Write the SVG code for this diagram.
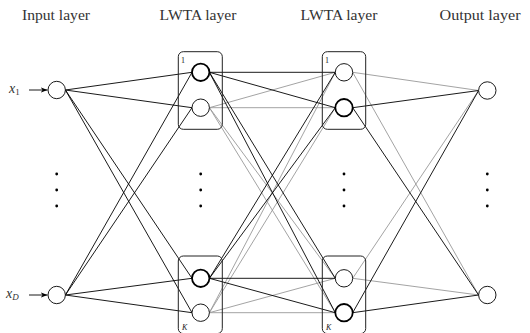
<svg xmlns="http://www.w3.org/2000/svg" width="530" height="333" viewBox="0 0 530 333">
<defs>
<style>
.hdr{font-family:"Liberation Serif",serif;font-size:14px;fill:#333}
.n{fill:#fff;stroke:#000;stroke-width:0.9}
.nb{fill:#fff;stroke:#000;stroke-width:1.8}
.box{fill:none;stroke:#222;stroke-width:1}
.k{stroke:#000;stroke-width:0.9;fill:none}
.g{stroke:#999;stroke-width:0.9;fill:none}
.dot{fill:#000}
.var{font-family:"Liberation Serif",serif;font-style:italic;font-size:14px;fill:#333}
.small{font-family:"Liberation Serif",serif;font-size:8px;fill:#222}
</style>
<marker id="ah" viewBox="0 0 10 10" refX="10" refY="5" markerWidth="7" markerHeight="7" markerUnits="userSpaceOnUse" orient="auto">
<path d="M0,1 L10,5 L0,9 L3,5 Z" fill="#000"/>
</marker>
</defs>
<rect width="530" height="333" fill="#fff"/>
<g id="headers">
<text class="hdr" x="56" y="20" text-anchor="middle" textLength="68" lengthAdjust="spacingAndGlyphs">Input layer</text>
<text class="hdr" x="198" y="20" text-anchor="middle" textLength="77" lengthAdjust="spacingAndGlyphs">LWTA layer</text>
<text class="hdr" x="339" y="20" text-anchor="middle" textLength="77" lengthAdjust="spacingAndGlyphs">LWTA layer</text>
<text class="hdr" x="480" y="20" text-anchor="middle" textLength="81" lengthAdjust="spacingAndGlyphs">Output layer</text>
</g>
<g id="connectors">
<line class="g" x1="209.4" y1="107.7" x2="335.3" y2="72.3"/>
<line class="g" x1="209.4" y1="107.7" x2="335.3" y2="107.7"/>
<line class="g" x1="209.4" y1="107.7" x2="335.3" y2="278.3"/>
<line class="g" x1="209.4" y1="107.7" x2="335.3" y2="312.7"/>
<line class="g" x1="209.4" y1="312.7" x2="335.3" y2="72.3"/>
<line class="g" x1="209.4" y1="312.7" x2="335.3" y2="107.7"/>
<line class="g" x1="209.4" y1="312.7" x2="335.3" y2="278.3"/>
<line class="g" x1="209.4" y1="312.7" x2="335.3" y2="312.7"/>
<line class="g" x1="352.7" y1="72.3" x2="478.6" y2="90.5"/>
<line class="g" x1="352.7" y1="72.3" x2="478.6" y2="295"/>
<line class="g" x1="352.7" y1="278.3" x2="478.6" y2="90.5"/>
<line class="g" x1="352.7" y1="278.3" x2="478.6" y2="295"/>
<line class="k" x1="65.4" y1="90" x2="192" y2="72.3"/>
<line class="k" x1="65.4" y1="90" x2="192" y2="107.7"/>
<line class="k" x1="65.4" y1="90" x2="192" y2="278.3"/>
<line class="k" x1="65.4" y1="90" x2="192" y2="312.7"/>
<line class="k" x1="65.4" y1="295" x2="192" y2="72.3"/>
<line class="k" x1="65.4" y1="295" x2="192" y2="107.7"/>
<line class="k" x1="65.4" y1="295" x2="192" y2="278.3"/>
<line class="k" x1="65.4" y1="295" x2="192" y2="312.7"/>
<line class="k" x1="209.4" y1="72.3" x2="335.3" y2="72.3"/>
<line class="k" x1="209.4" y1="72.3" x2="335.3" y2="107.7"/>
<line class="k" x1="209.4" y1="72.3" x2="335.3" y2="278.3"/>
<line class="k" x1="209.4" y1="72.3" x2="335.3" y2="312.7"/>
<line class="k" x1="209.4" y1="278.3" x2="335.3" y2="72.3"/>
<line class="k" x1="209.4" y1="278.3" x2="335.3" y2="107.7"/>
<line class="k" x1="209.4" y1="278.3" x2="335.3" y2="278.3"/>
<line class="k" x1="209.4" y1="278.3" x2="335.3" y2="312.7"/>
<line class="k" x1="352.7" y1="107.7" x2="478.6" y2="90.5"/>
<line class="k" x1="352.7" y1="107.7" x2="478.6" y2="295"/>
<line class="k" x1="352.7" y1="312.7" x2="478.6" y2="90.5"/>
<line class="k" x1="352.7" y1="312.7" x2="478.6" y2="295"/>
<line class="k" x1="29" y1="90" x2="47.5" y2="90" marker-end="url(#ah)"/>
<line class="k" x1="29" y1="295" x2="47.5" y2="295" marker-end="url(#ah)"/>
</g>
<g id="input-layer">
<circle id="x1" class="n" cx="56.7" cy="90" r="8.7"/>
<circle id="xD" class="n" cx="56.7" cy="295" r="8.7"/>
<text class="var" x="9" y="93">x<tspan font-size="9" font-style="normal" dy="2">1</tspan></text>
<text class="var" x="6" y="298">x<tspan font-size="9" dy="2">D</tspan></text>
<circle class="dot" cx="56.7" cy="174" r="1.4"/>
<circle class="dot" cx="56.7" cy="190" r="1.4"/>
<circle class="dot" cx="56.7" cy="206" r="1.4"/>
</g>
<g id="lwta1">
<rect class="box" x="178.3" y="51.7" width="44" height="77.6" rx="5"/>
<rect class="box" x="178.3" y="256" width="44" height="77.6" rx="5"/>
<text class="small" x="181" y="63">1</text>
<text class="small" x="182" y="330" font-style="italic">K</text>
<circle class="nb" cx="200.7" cy="72.3" r="8.7"/>
<circle class="n" cx="200.7" cy="107.7" r="8.7"/>
<circle class="nb" cx="200.7" cy="278.3" r="8.7"/>
<circle class="n" cx="200.7" cy="312.7" r="8.7"/>
<circle class="dot" cx="200.7" cy="174" r="1.4"/>
<circle class="dot" cx="200.7" cy="190" r="1.4"/>
<circle class="dot" cx="200.7" cy="206" r="1.4"/>
</g>
<g id="lwta2">
<rect class="box" x="322.3" y="51.7" width="43.4" height="77.6" rx="5"/>
<rect class="box" x="322.3" y="256" width="43.4" height="77.6" rx="5"/>
<text class="small" x="325" y="63">1</text>
<text class="small" x="326" y="330" font-style="italic">K</text>
<circle class="n" cx="344" cy="72.3" r="8.7"/>
<circle class="nb" cx="344" cy="107.7" r="8.7"/>
<circle class="n" cx="344" cy="278.3" r="8.7"/>
<circle class="nb" cx="344" cy="312.7" r="8.7"/>
<circle class="dot" cx="344" cy="174" r="1.4"/>
<circle class="dot" cx="344" cy="190" r="1.4"/>
<circle class="dot" cx="344" cy="206" r="1.4"/>
</g>
<g id="output-layer">
<circle class="n" cx="487.3" cy="90.5" r="8.7"/>
<circle class="n" cx="487.3" cy="295" r="8.7"/>
<circle class="dot" cx="487.3" cy="174" r="1.4"/>
<circle class="dot" cx="487.3" cy="190" r="1.4"/>
<circle class="dot" cx="487.3" cy="206" r="1.4"/>
</g>
</svg>
